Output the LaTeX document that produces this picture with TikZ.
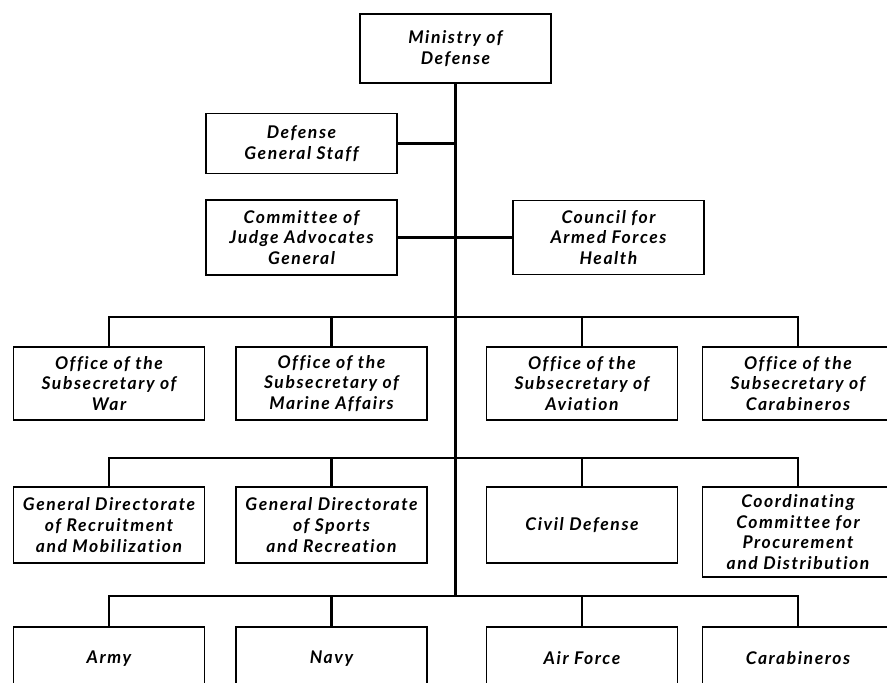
\documentclass[tikz,border=0pt]{standalone}
\usepackage{fontspec}
\setmainfont{Lato}[LetterSpace=9, Ligatures=NoCommon]
\begin{document}
\begin{tikzpicture}[
    x=1pt, y=-1pt,
    unit/.style={draw, line width=1.5pt, minimum width=191pt, align=center,
      inner sep=2pt, font=\fontsize{17.5}{20.8}\selectfont\bfseries\itshape},
    bus/.style={line width=2.8pt}
  ]
  \useasboundingbox (0,0) rectangle (887,683);

  \node[unit, minimum height=69pt] (mod) at (455.5,48.5) {Ministry of\\Defense};
  \node[unit, minimum height=60pt] (dgs) at (301.5,143.5) {Defense\\General Staff};
  \node[unit, minimum height=75pt] (cjag) at (301.5,237.5) {Committee of\\Judge Advocates\\General};
  \node[unit, minimum height=74pt] (cafh) at (608.5,237.5) {Council for\\Armed Forces\\Health};

  \node[unit, minimum height=73pt] (osw) at (109,383.5) {Office of the\\Subsecretary of\\War};
  \node[unit, minimum height=73pt] (osm) at (331.5,383.5) {Office of the\\Subsecretary of\\Marine Affairs};
  \node[unit, minimum height=73pt] (osa) at (582,383.5) {Office of the\\Subsecretary of\\Aviation};
  \node[unit, minimum height=73pt] (osc) at (798,383.5) {Office of the\\Subsecretary of\\Carabineros};

  \node[unit, minimum height=76pt] (gdr) at (109,525) {General Directorate\\of Recruitment\\and Mobilization};
  \node[unit, minimum height=76pt] (gds) at (331.5,525) {General Directorate\\of Sports\\and Recreation};
  \node[unit, minimum height=76pt] (cd) at (582,525) {Civil Defense};
  \node[unit, minimum height=90pt] (ccp) at (798,532) {Coordinating\\Committee for\\Procurement\\and Distribution};

  \node[unit, minimum height=63pt] (army) at (109,658.5) {Army};
  \node[unit, minimum height=63pt] (navy) at (331.5,658.5) {Navy};
  \node[unit, minimum height=63pt] (af) at (582,658.5) {Air Force};
  \node[unit, minimum height=63pt] (carab) at (798,658.5) {Carabineros};

  \coordinate (lv1) at (456,317);
  \coordinate (lv2) at (456,458);
  \coordinate (lv3) at (456,596);

  % Trunk and staff links
  \draw[bus] (mod.south) -- (mod.south |- lv3);
  \draw[bus] (dgs.east) -- (dgs.east -| mod.south);
  \draw[bus] (cjag.east) -- (cafh.west);

  % Buses to the three lower rows
  \draw[bus] (osw.north) |- (lv1) -| (osc.north);
  \draw[bus] (gdr.north) |- (lv2) -| (ccp.north);
  \draw[bus] (army.north) |- (lv3) -| (carab.north);
  \foreach \n/\lv in {osm/lv1,osa/lv1,gds/lv2,cd/lv2,navy/lv3,af/lv3}
    \draw[bus] (\n.north) -- (\n.north |- \lv);
\end{tikzpicture}
\end{document}
